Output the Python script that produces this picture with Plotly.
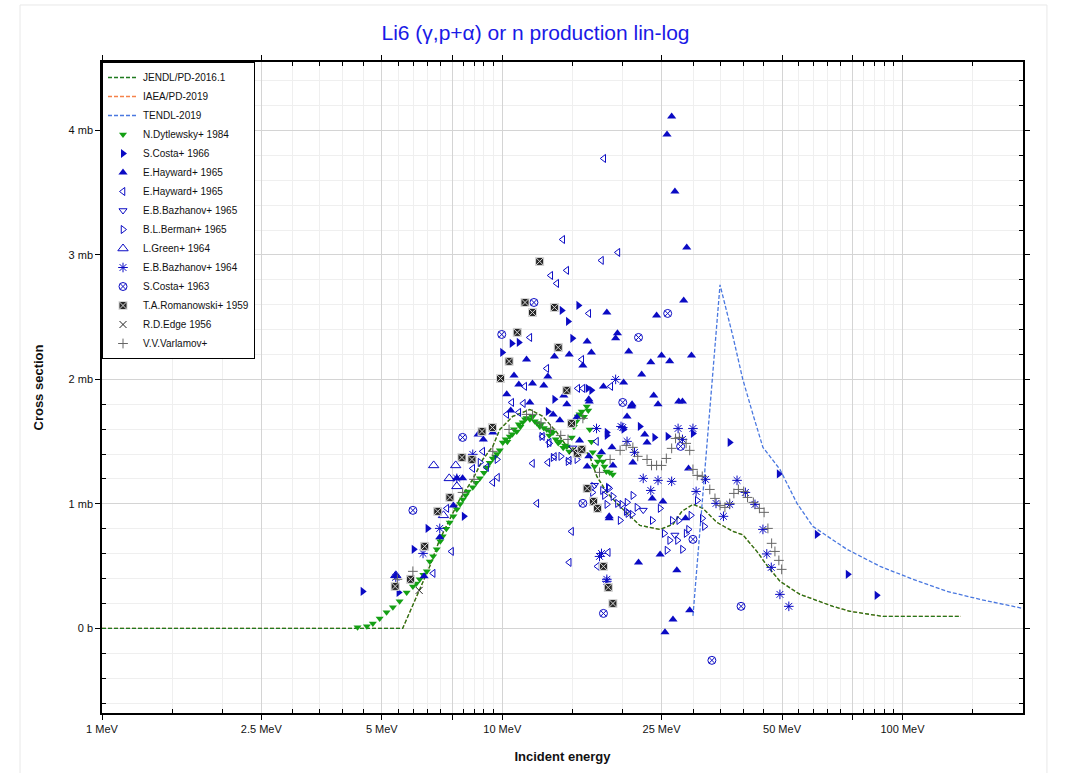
import plotly.graph_objects as go

# ---------------- evaluated data (energy MeV, cross section mb) ----------------
jendl_e = [1.0, 5.64, 6.22, 6.59, 6.98, 7.39, 7.83, 8.44, 8.94, 9.47, 9.86, 10.62, 11.72, 12.63,
           13.69, 14.50, 15.36, 15.90, 16.55, 17.23, 18.25, 19.67, 20.84, 22.07, 24.77, 26.69,
           28.11, 29.95, 31.72, 34.39, 37.70, 39.93, 43.27, 45.84, 49.41, 55.44, 67.04, 73.94,
           89.4, 140.0]
jendl_s = [0, 0, 0.313, 0.498, 0.715, 0.876, 1.036, 1.197, 1.357, 1.462, 1.598, 1.703, 1.759,
           1.703, 1.574, 1.462, 1.438, 1.454, 1.382, 1.221, 1.092, 0.980, 0.900, 0.827, 0.795,
           0.835, 0.940, 0.996, 0.964, 0.851, 0.779, 0.751, 0.618, 0.506, 0.378, 0.273, 0.177,
           0.137, 0.096, 0.096]
iaea_e = list(jendl_e)
iaea_s = list(jendl_s)
tendl_e = [29.95, 35.0, 37.7, 39.9, 42.3, 44.8, 49.4, 54.5, 59.7, 72.6, 87.9, 106.2, 129.2, 156.2, 200.0]
tendl_s = [0.10, 2.76, 2.345, 2.0, 1.719, 1.454, 1.277, 1.004, 0.819, 0.635, 0.498, 0.394, 0.297, 0.233, 0.16]

# ---------------- experimental data ----------------
dyt_e = [4.35, 4.59, 4.75, 4.94, 5.14, 5.33, 5.54, 5.77, 5.98, 6.1, 6.22, 6.35, 6.48, 6.59, 6.72,
         6.86, 7.0, 7.10, 7.25, 7.39, 7.55, 7.70, 7.85, 7.97, 8.1, 8.2, 8.44, 8.6, 8.79, 9.0, 9.15,
         9.3, 9.47, 9.6, 9.7, 9.86, 10.03, 10.2, 10.3, 10.44, 10.6, 10.7, 10.87, 11.0, 11.1, 11.25,
         11.4, 11.5, 11.72, 11.9, 12.06, 12.2, 12.41, 12.5, 12.7, 12.92, 13.1, 13.2, 13.38, 13.6,
         13.8, 13.93, 14.2, 14.35, 14.50, 14.7, 14.92, 15.1, 15.3, 15.44, 15.6, 15.80, 16.0, 16.26,
         16.4, 16.54, 16.7, 16.83, 17.0, 17.32, 17.5, 17.83, 18.0, 18.2, 18.56, 18.88]
dyt_s = [0.008, 0.016, 0.04, 0.08, 0.129, 0.169, 0.217, 0.289, 0.337, 0.36, 0.394, 0.43, 0.458,
         0.538, 0.58, 0.635, 0.70, 0.739, 0.80, 0.851, 0.90, 0.956, 1.00, 1.036, 1.07, 1.10, 1.133,
         1.17, 1.205, 1.25, 1.293, 1.33, 1.365, 1.38, 1.40, 1.43, 1.494, 1.52, 1.50, 1.542, 1.56,
         1.60, 1.582, 1.64, 1.62, 1.655, 1.68, 1.69, 1.679, 1.70, 1.663, 1.65, 1.622, 1.64, 1.61,
         1.598, 1.55, 1.58, 1.574, 1.52, 1.49, 1.502, 1.45, 1.47, 1.462, 1.42, 1.534, 1.62, 1.66,
         1.703, 1.72, 1.743, 1.70, 1.783, 1.75, 1.598, 1.50, 1.414, 1.30, 1.341, 1.38, 1.341, 1.30,
         1.26, 1.253, 1.237]

costa66_e = [4.48, 5.51, 6.01, 6.51, 8.02, 10.0, 10.56, 11.0, 14.08, 14.6, 15.5, 14.97, 16.7, 13.5,
             22.07, 18.25, 24.0, 25.9, 37.0, 49.1, 61.1, 73.0, 86.2, 29.95, 13.0, 16.35, 18.25, 20.1]
costa66_s = [0.297, 0.289, 0.635, 0.803, 0.9, 2.217, 2.289, 2.297, 2.554, 2.466, 2.594, 2.33, 1.912,
             1.84, 1.622, 1.55, 1.534, 1.542, 1.494, 1.241, 0.755, 0.434, 0.265, 1.566, 1.743, 1.928,
             1.574, 1.60]

hay_e = [18.25, 19.4, 19.2, 16.3, 20.7, 14.7, 16.7, 11.5, 13.5, 15.9, 10.7, 13.0, 11.0, 11.9, 12.7,
         17.9, 20.1, 14.25, 16.5, 21.1, 10.26, 11.72, 14.5, 16.45, 21.07, 10.5, 9.47, 13.93, 13.4,
         15.36, 20.5, 15.6, 18.8, 21.2, 16.45, 16.3, 17.7, 18.9, 18.5, 21.9,
         26.5, 25.8, 27.0, 28.9, 28.4, 24.3, 23.5, 25.0, 26.2, 29.7, 22.3, 23.9, 24.5, 27.6, 28.2,
         21.0, 22.7, 23.0, 23.7, 25.2, 18.5, 29.2, 24.8, 27.3, 26.7, 25.5, 29.4, 28.7,
         8.97, 8.7, 7.96, 7.7, 7.55, 6.98, 6.38, 5.42]
hay_s = [2.538, 2.37, 2.33, 2.305, 2.225, 2.2, 2.217, 2.16, 2.185, 2.112, 2.032, 2.024, 1.96, 1.968,
         1.952, 1.944, 1.976, 1.871, 1.823, 1.8, 1.88, 1.815, 1.8, 1.84, 1.791, 1.751, 1.574, 1.671,
         1.719, 1.695, 1.703, 1.51, 1.454, 1.333, 1.382, 1.301, 1.414, 1.309, 0.9, 0.53,
         4.112, 3.968, 3.51, 3.06, 2.634, 2.514, 2.137, 2.193, 2.145, 2.193, 2.04, 1.871, 1.8, 1.823,
         1.823, 1.783, 1.558, 1.494, 1.044, 1.02, 0.884, 1.285, 0.594, 0.466, 0.072, -0.032, 0.145,
         0.884, 1.518, 1.558, 1.205, 1.205, 0.988, 0.731, 0.418, 0.426]

hayl_e = [17.93, 14.16, 19.45, 17.7, 14.49, 13.22, 13.68, 16.45, 11.72, 15.8, 12.92, 11.38, 18.67,
          15.44, 15.9, 10.56, 11.29, 10.26, 11.0, 12.6, 13.1, 11.9, 13.0, 13.5, 12.2, 14.9, 14.7,
          18.4, 17.3, 17.2, 14.7, 9.47, 9.73, 8.94, 7.47, 6.72, 7.27, 9.14, 8.44]
hayl_s = [3.775, 3.124, 3.02, 2.956, 2.876, 2.835, 2.771, 2.53, 2.337, 2.16, 2.088, 1.944, 1.944,
          1.928, 1.928, 1.815, 1.807, 1.719, 1.735, 1.542, 1.494, 1.325, 1.333, 1.38, 1.004, 0.779,
          0.53, 0.61, 0.498, 1.502, 1.349, 1.173, 1.213, 1.422, 0.618, 0.442, 0.964, 1.293, 1.285]

baz65_e = [15.0, 17.0, 22.5, 27.0]
baz65_s = [1.45, 1.15, 0.95, 0.75]

berman_e = [18.5, 17.8, 19.9, 21.2, 20.6, 19.7, 23.7, 24.8, 25.4, 26.2, 27.4, 28.2, 25.8, 27.6, 28.8,
            29.2, 29.6, 30.7, 31.6, 32.0, 26.6, 12.55, 13.1, 13.4, 14.0, 14.6, 15.36, 18.4, 18.0,
            16.8, 18.25, 18.9, 19.4, 20.5, 21.1, 21.7, 20.4, 16.9, 9.7, 8.8]
berman_s = [1.124, 1.108, 0.996, 1.068, 0.924, 0.867, 0.867, 0.964, 0.763, 0.707, 0.707, 0.635, 0.627,
            0.867, 0.763, 0.795, 0.908, 1.028, 0.884, 0.819, 0.867, 1.542, 1.486, 1.373, 1.382, 1.341,
            1.357, 1.133, 1.068, 1.092, 0.996, 1.06, 1.004, 1.012, 0.916, 0.972, 0.94, 1.14, 1.357,
            1.333]

green_e = [6.74, 7.65, 7.37, 7.7, 7.13, 5.42]
green_s = [1.309, 1.309, 1.205, 1.141, 0.908, 0.426]

baz64_e = [8.44, 7.7, 6.98, 6.34, 5.42, 17.2, 20.5, 19.8, 21.4, 17.7, 18.25, 19.2, 20.0, 22.5, 24.5,
           26.5, 23.5, 27.5, 29.95, 28.2, 30.5, 32.2, 34.2, 37.0, 38.6, 35.7, 40.5, 42.8, 44.8, 45.8,
           47.0, 49.4, 52.0, 17.5, 18.25]
baz64_s = [1.398, 1.205, 0.803, 0.602, 0.41, 1.606, 1.502, 1.622, 1.414, 0.602, 0.394, 2.0, 1.614,
           1.205, 1.189, 1.181, 1.108, 1.606, 1.606, 1.518, 1.1, 1.197, 1.004, 0.996, 1.189, 0.9,
           1.092, 0.996, 0.795, 0.598, 0.49, 0.273, 0.177, 0.578, 0.378]

costa63_e = [7.96, 5.98, 9.97, 12.0, 25.9, 21.9, 20.0, 27.9, 29.95, 39.5, 33.4, 17.9, 15.9]
costa63_s = [1.534, 0.948, 2.361, 2.618, 2.53, 2.337, 1.815, 1.462, 0.715, 0.177, -0.257, 0.12, 1.004]

roman_e = [12.4, 11.4, 11.9, 13.5, 10.9, 13.8, 10.4, 9.9, 14.5, 14.9, 8.9, 9.45, 15.4, 15.8, 16.3,
           16.9, 17.3, 17.9, 18.4, 18.9, 7.93, 8.4, 7.4, 6.9, 6.4, 5.9, 5.4]
roman_s = [2.948, 2.618, 2.538, 2.578, 2.378, 2.257, 2.145, 2.008, 1.912, 1.647, 1.582, 1.614, 1.406,
           1.438, 1.124, 1.02, 0.964, 0.498, 0.329, 0.2, 1.373, 1.357, 1.052, 0.94, 0.659, 0.394,
           0.337]

edge_e = [6.2, 15.0]
edge_s = [0.305, 1.43]

varl_e = [5.47, 5.98, 7.96, 8.5, 9.47, 10.4, 11.5, 11.9, 12.5, 13.2, 14.0, 14.6, 15.9, 17.5, 18.6,
          19.7, 20.4, 21.2, 21.8, 23.0, 23.6, 24.3, 25.0, 25.7, 26.5, 27.1, 27.7, 28.8, 29.4, 29.95,
          30.7, 31.6, 33.0, 34.0, 35.0, 36.0, 37.0, 37.9, 38.9, 40.1, 41.0, 42.4, 43.9, 45.1, 46.1,
          47.1, 48.0, 49.1, 49.9]
varl_s = [0.394, 0.458, 1.092, 1.197, 1.422, 1.598, 1.719, 1.719, 1.65, 1.60, 1.55, 1.518, 1.687,
          1.253, 1.357, 1.43, 1.47, 1.454, 1.382, 1.357, 1.309, 1.309, 1.309, 1.365, 1.446, 1.526,
          1.534, 1.486, 1.43, 1.277, 1.229, 1.221, 1.116, 1.044, 0.988, 0.972, 1.004, 1.084, 1.116,
          1.1, 1.052, 1.012, 0.964, 0.932, 0.803, 0.683, 0.618, 0.546, 0.474]

# ---------------- axis ticks ----------------
x_tickvals = [1, 2.5, 5, 7.5, 10, 25, 50, 75, 100]
x_ticktext = ["1 MeV", "2.5 MeV", "5 MeV", "", "10 MeV", "25 MeV", "50 MeV", "", "100 MeV"]
x_minor = [1.5, 2, 3, 3.5, 4, 4.5, 5.5, 6, 6.5, 7, 8, 8.5, 9, 9.5,
           15, 20, 30, 35, 40, 45, 55, 60, 65, 70, 80, 85, 90, 95, 150]
y_tickvals = [0, 1, 2, 3, 4]
y_ticktext = ["0 b", "1 mb", "2 mb", "3 mb", "4 mb"]
y_minor = [-0.6, -0.4, -0.2, 0.2, 0.4, 0.6, 0.8, 1.2, 1.4, 1.6, 1.8, 2.2, 2.4, 2.6, 2.8,
           3.2, 3.4, 3.6, 3.8, 4.2, 4.4]

BLUE = "#0b0bc4"
FONT = "Liberation Sans, Arial, sans-serif"
DASH = "4px,2px"

fig = go.Figure()

# IAEA drawn first so JENDL (identical curve) lies on top of it
fig.add_trace(go.Scatter(x=iaea_e, y=iaea_s, mode="lines", name="IAEA/PD-2019", legendrank=2,
                         line=dict(color="#f5824a", width=1.3, dash=DASH)))
fig.add_trace(go.Scatter(x=jendl_e, y=jendl_s, mode="lines", name="JENDL/PD-2016.1", legendrank=1,
                         line=dict(color="#1f7a1f", width=1.3, dash=DASH)))
fig.add_trace(go.Scatter(x=tendl_e, y=tendl_s, mode="lines", name="TENDL-2019", legendrank=3,
                         line=dict(color="#4a78e0", width=1.3, dash=DASH)))


def pts(x, y, name, symbol, color, size=8, rank=10, lw=1, lcolor=None):
    fig.add_trace(go.Scatter(
        x=x, y=y, mode="markers", name=name, legendrank=rank,
        marker=dict(symbol=symbol, size=size, color=color,
                    line=dict(width=lw, color=lcolor if lcolor else color))))


pts(dyt_e, dyt_s, "N.Dytlewsky+ 1984", "triangle-down", "#14a014", size=7, rank=4, lw=0)
pts(costa66_e, costa66_s, "S.Costa+ 1966", "triangle-right", BLUE, rank=5, lw=0)
pts(hay_e, hay_s, "E.Hayward+ 1965", "triangle-up", BLUE, rank=6, lw=0)
pts(hayl_e, hayl_s, "E.Hayward+ 1965", "triangle-left-open", BLUE, size=7, rank=7)
pts(baz65_e, baz65_s, "E.B.Bazhanov+ 1965", "triangle-down-open", BLUE, size=7, rank=8)
pts(berman_e, berman_s, "B.L.Berman+ 1965", "triangle-right-open", BLUE, size=7, rank=9)
pts(green_e, green_s, "L.Green+ 1964", "triangle-up-open", BLUE, size=9, rank=10)
pts(baz64_e, baz64_s, "E.B.Bazhanov+ 1964", "asterisk-open", BLUE, size=8, rank=11)
pts(costa63_e, costa63_s, "S.Costa+ 1963", "circle-x-open", BLUE, size=8, rank=12)
pts(roman_e, roman_s, "T.A.Romanowski+ 1959", "square-x", "#262626", size=8, rank=13, lw=1,
    lcolor="#d8d8d8")
pts(edge_e, edge_s, "R.D.Edge 1956", "x-thin-open", "#222222", size=7, rank=14)
pts(varl_e, varl_s, "V.V.Varlamov+", "cross-thin-open", "#666666", size=7, rank=15)

fig.update_layout(
    width=1071, height=773,
    margin=dict(l=102, r=48, t=62, b=60, autoexpand=False),
    paper_bgcolor="white", plot_bgcolor="white",
    font=dict(family=FONT, size=11, color="#111"),
    title=dict(text="Li6 (γ,p+α) or n production lin-log", x=0.5, xref="container",
               y=1 - 33 / 773, yref="container", yanchor="middle", xanchor="center",
               font=dict(size=21, color="#1a1ae6", family=FONT)),
    showlegend=True,
    legend=dict(x=0, y=1, xanchor="left", yanchor="top", bgcolor="white",
                bordercolor="black", borderwidth=1, font=dict(size=10, family=FONT),
                tracegroupgap=0, itemwidth=30),
    shapes=[dict(type="rect", xref="paper", yref="paper", x0=-0.089, x1=1.026,
                 y0=-0.15, y1=1.0876, line=dict(color="#e8e8e8", width=1), layer="below")],
)

fig.update_xaxes(
    type="log", range=[0, 2.30103], automargin=False,
    tickmode="array", tickvals=x_tickvals, ticktext=x_ticktext,
    ticks="outside", ticklen=5, tickcolor="black",
    showline=True, linecolor="black", linewidth=1.5, mirror="ticks",
    showgrid=True, gridcolor="#d4d4d4", gridwidth=1, zeroline=False,
    minor=dict(tickmode="array", tickvals=x_minor, ticks="inside", ticklen=4,
               tickcolor="black", showgrid=True, gridcolor="#efefef"),
    title=dict(text="<b>Incident energy</b>", font=dict(size=13, family=FONT), standoff=18),
)
fig.update_yaxes(
    range=[-0.68, 4.55], automargin=False,
    tickmode="array", tickvals=y_tickvals, ticktext=y_ticktext,
    ticks="outside", ticklen=5, tickcolor="black",
    showline=True, linecolor="black", linewidth=1.5, mirror="ticks",
    showgrid=True, gridcolor="#d4d4d4", gridwidth=1, zeroline=False,
    minor=dict(tickmode="array", tickvals=y_minor, ticks="inside", ticklen=4,
               tickcolor="black", showgrid=True, gridcolor="#efefef"),
    title=dict(text="<b>Cross section</b>", font=dict(size=13, family=FONT), standoff=22),
)

fig.write_html("out.html", config={"displayModeBar": False},
               post_script="document.body.style.margin='0px';")
